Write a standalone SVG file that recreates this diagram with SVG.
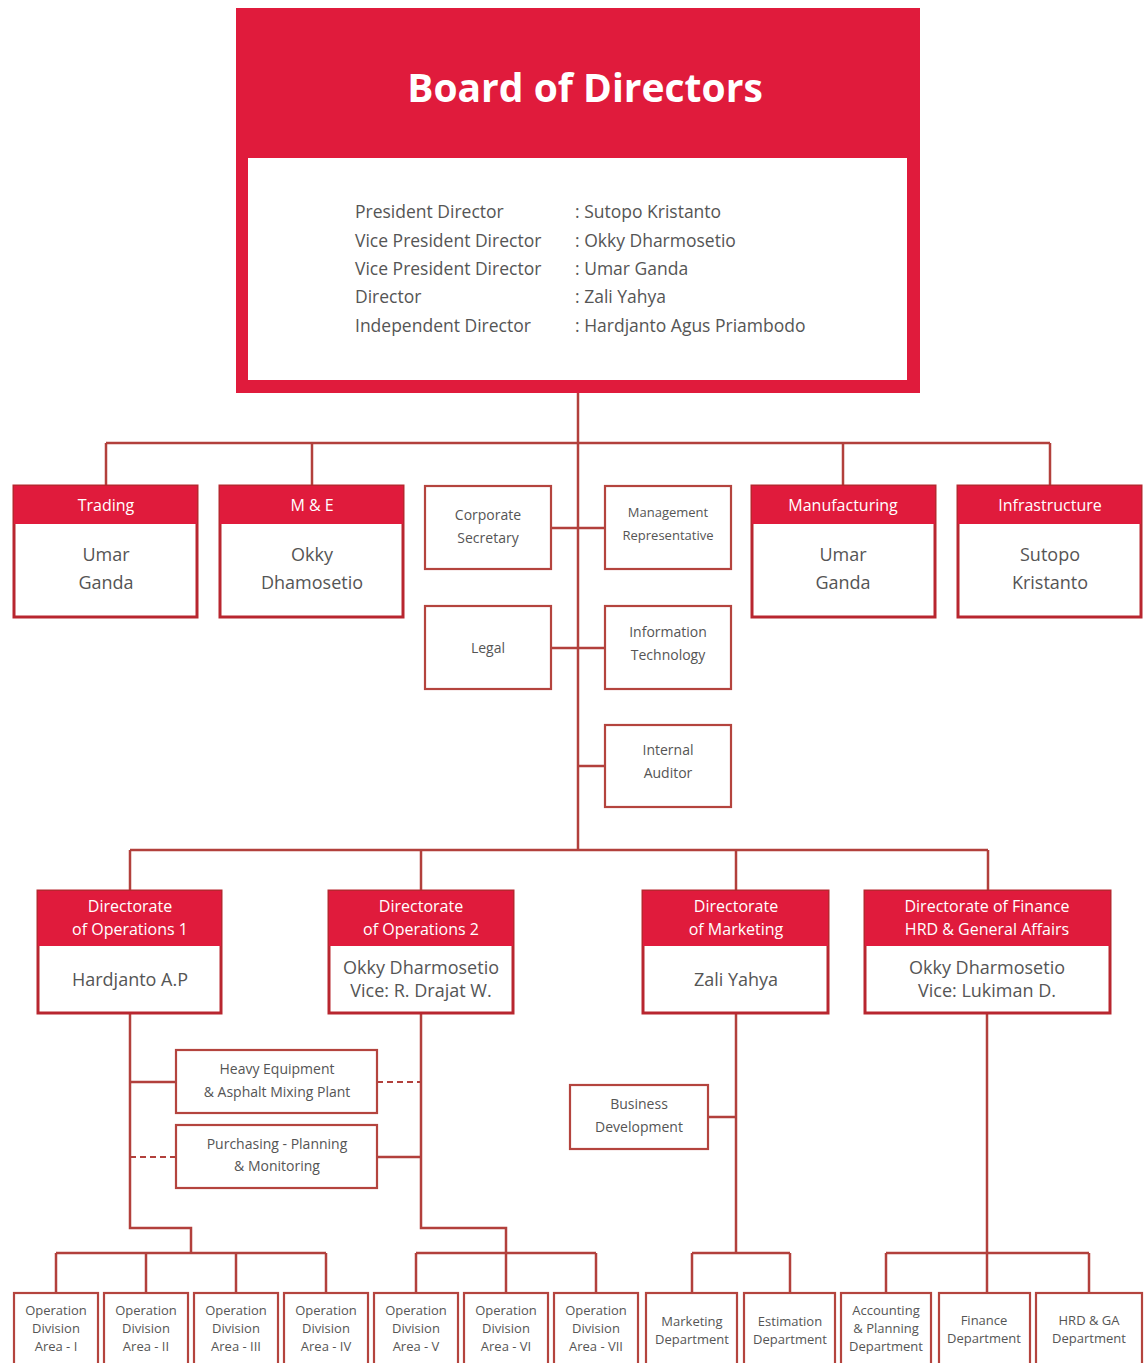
<svg xmlns="http://www.w3.org/2000/svg" width="1147" height="1363" viewBox="0 0 1147 1363">
<style>
.ln{stroke:#b2403c;stroke-width:2.5;fill:none}
.dash{stroke:#b2403c;stroke-width:2;fill:none;stroke-dasharray:6,4}
.rb{fill:#fff;stroke:#b8262f;stroke-width:3}
.hd{fill:#e01b3c}
.pb{fill:#fff;stroke:#b4443e;stroke-width:2.2}
.t{font-family:"Open Sans","Noto Sans",sans-serif;fill:#555;text-anchor:middle}
.w{font-family:"Open Sans","Noto Sans",sans-serif;fill:#fff;text-anchor:middle;font-size:16px}
.b{font-size:18px}
.s{font-size:14px}
.x{font-size:13px}
.l{font-family:"Open Sans","Noto Sans",sans-serif;fill:#555;font-size:17.5px}
</style>
<rect width="1147" height="1363" fill="#fff"/>
<g id="connectors">
<path class="ln" d="M578,393 V850"/>
<path class="ln" d="M106,443 H1050 M106,443 V486 M312,443 V486 M843,443 V486 M1050,443 V486"/>
<path class="ln" d="M551,528 H605 M551,648 H605 M578,766 H605"/>
<path class="ln" d="M130,850 H988 M130,850 V891 M421,850 V891 M736,850 V891 M988,850 V891"/>
<path class="ln" d="M130,1013 V1228 H191 V1253 M130,1082 H176"/>
<path class="dash" d="M377,1082 H421 M130,1157 H176"/>
<path class="ln" d="M421,1013 V1228 H506 V1253 M377,1157 H421"/>
<path class="ln" d="M56,1253 H326 M56,1253 V1293 M146,1253 V1293 M236,1253 V1293 M326,1253 V1293"/>
<path class="ln" d="M416,1253 H596 M416,1253 V1293 M506,1253 V1293 M596,1253 V1293"/>
<path class="ln" d="M736,1013 V1253 M692,1253 H790 M692,1253 V1293 M790,1253 V1293 M708,1117 H736"/>
<path class="ln" d="M987,1013 V1293 M886,1253 H1089 M886,1253 V1293 M1089,1253 V1293"/>
</g>
<g id="board">
<rect x="236" y="8" width="684" height="385" fill="#e01b3c"/>
<rect x="248" y="158" width="659" height="222" fill="#fff"/>
<text x="585" y="102" text-anchor="middle" font-family="'Open Sans','Noto Sans',sans-serif" font-weight="bold" font-size="39" fill="#fff">Board of Directors</text>
<text class="l" x="355" y="218">President Director</text>
<text class="l" x="355" y="247">Vice President Director</text>
<text class="l" x="355" y="275">Vice President Director</text>
<text class="l" x="355" y="303">Director</text>
<text class="l" x="355" y="332">Independent Director</text>
<text class="l" x="575" y="218">: Sutopo Kristanto</text>
<text class="l" x="575" y="247">: Okky Dharmosetio</text>
<text class="l" x="575" y="275">: Umar Ganda</text>
<text class="l" x="575" y="303">: Zali Yahya</text>
<text class="l" x="575" y="332">: Hardjanto Agus Priambodo</text>
</g>
<g id="trading">
<rect class="rb" x="14" y="486" width="183" height="131"/>
<rect class="hd" x="14" y="486" width="183" height="38"/>
<text class="w" x="106" y="511">Trading</text>
<text class="t b" x="106" y="561">Umar</text>
<text class="t b" x="106" y="589">Ganda</text>
</g>
<g id="me">
<rect class="rb" x="220" y="486" width="183" height="131"/>
<rect class="hd" x="220" y="486" width="183" height="38"/>
<text class="w" x="312" y="511">M &amp; E</text>
<text class="t b" x="312" y="561">Okky</text>
<text class="t b" x="312" y="589">Dhamosetio</text>
</g>
<g id="corpsec">
<rect class="pb" x="425" y="486" width="126" height="83"/>
<text class="t s" x="488" y="520">Corporate</text>
<text class="t s" x="488" y="543">Secretary</text>
</g>
<g id="mgmtrep">
<rect class="pb" x="605" y="486" width="126" height="83"/>
<text class="t x" x="668" y="517">Management</text>
<text class="t x" x="668" y="540">Representative</text>
</g>
<g id="manufacturing">
<rect class="rb" x="752" y="486" width="183" height="131"/>
<rect class="hd" x="752" y="486" width="183" height="38"/>
<text class="w" x="843" y="511">Manufacturing</text>
<text class="t b" x="843" y="561">Umar</text>
<text class="t b" x="843" y="589">Ganda</text>
</g>
<g id="infrastructure">
<rect class="rb" x="958" y="486" width="183" height="131"/>
<rect class="hd" x="958" y="486" width="183" height="38"/>
<text class="w" x="1050" y="511">Infrastructure</text>
<text class="t b" x="1050" y="561">Sutopo</text>
<text class="t b" x="1050" y="589">Kristanto</text>
</g>
<g id="legal">
<rect class="pb" x="425" y="606" width="126" height="83"/>
<text class="t s" x="488" y="653">Legal</text>
</g>
<g id="it">
<rect class="pb" x="605" y="606" width="126" height="83"/>
<text class="t s" x="668" y="637">Information</text>
<text class="t s" x="668" y="660">Technology</text>
</g>
<g id="audit">
<rect class="pb" x="605" y="725" width="126" height="82"/>
<text class="t s" x="668" y="755">Internal</text>
<text class="t s" x="668" y="778">Auditor</text>
</g>
<g id="ops1">
<rect class="rb" x="38" y="891" width="183" height="122"/>
<rect class="hd" x="38" y="891" width="183" height="55"/>
<text class="w" x="130" y="912">Directorate</text>
<text class="w" x="130" y="935">of Operations 1</text>
<text class="t b" x="130" y="986">Hardjanto A.P</text>
</g>
<g id="ops2">
<rect class="rb" x="329" y="891" width="184" height="122"/>
<rect class="hd" x="329" y="891" width="184" height="55"/>
<text class="w" x="421" y="912">Directorate</text>
<text class="w" x="421" y="935">of Operations 2</text>
<text class="t b" x="421" y="974">Okky Dharmosetio</text>
<text class="t b" x="421" y="997">Vice: R. Drajat W.</text>
</g>
<g id="marketing">
<rect class="rb" x="643" y="891" width="185" height="122"/>
<rect class="hd" x="643" y="891" width="185" height="55"/>
<text class="w" x="736" y="912">Directorate</text>
<text class="w" x="736" y="935">of Marketing</text>
<text class="t b" x="736" y="986">Zali Yahya</text>
</g>
<g id="finance">
<rect class="rb" x="865" y="891" width="245" height="122"/>
<rect class="hd" x="865" y="891" width="245" height="55"/>
<text class="w" x="987" y="912">Directorate of Finance</text>
<text class="w" x="987" y="935">HRD &amp; General Affairs</text>
<text class="t b" x="987" y="974">Okky Dharmosetio</text>
<text class="t b" x="987" y="997">Vice: Lukiman D.</text>
</g>
<g id="heavy">
<rect class="pb" x="176" y="1050" width="201" height="63"/>
<text class="t s" x="277" y="1074">Heavy Equipment</text>
<text class="t s" x="277" y="1097">&amp; Asphalt Mixing Plant</text>
</g>
<g id="purchasing">
<rect class="pb" x="176" y="1125" width="201" height="63"/>
<text class="t s" x="277" y="1149">Purchasing - Planning</text>
<text class="t s" x="277" y="1171">&amp; Monitoring</text>
</g>
<g id="bizdev">
<rect class="pb" x="570" y="1085" width="138" height="64"/>
<text class="t s" x="639" y="1109">Business</text>
<text class="t s" x="639" y="1132">Development</text>
</g>
<g id="area1"><rect class="pb" x="14" y="1293" width="84" height="85"/><text class="t x" x="56" y="1315">Operation</text><text class="t x" x="56" y="1333">Division</text><text class="t x" x="56" y="1351">Area - I</text></g>
<g id="area2"><rect class="pb" x="104" y="1293" width="84" height="85"/><text class="t x" x="146" y="1315">Operation</text><text class="t x" x="146" y="1333">Division</text><text class="t x" x="146" y="1351">Area - II</text></g>
<g id="area3"><rect class="pb" x="194" y="1293" width="84" height="85"/><text class="t x" x="236" y="1315">Operation</text><text class="t x" x="236" y="1333">Division</text><text class="t x" x="236" y="1351">Area - III</text></g>
<g id="area4"><rect class="pb" x="284" y="1293" width="84" height="85"/><text class="t x" x="326" y="1315">Operation</text><text class="t x" x="326" y="1333">Division</text><text class="t x" x="326" y="1351">Area - IV</text></g>
<g id="area5"><rect class="pb" x="374" y="1293" width="84" height="85"/><text class="t x" x="416" y="1315">Operation</text><text class="t x" x="416" y="1333">Division</text><text class="t x" x="416" y="1351">Area - V</text></g>
<g id="area6"><rect class="pb" x="464" y="1293" width="84" height="85"/><text class="t x" x="506" y="1315">Operation</text><text class="t x" x="506" y="1333">Division</text><text class="t x" x="506" y="1351">Area - VI</text></g>
<g id="area7"><rect class="pb" x="554" y="1293" width="84" height="85"/><text class="t x" x="596" y="1315">Operation</text><text class="t x" x="596" y="1333">Division</text><text class="t x" x="596" y="1351">Area - VII</text></g>
<g id="mktdept"><rect class="pb" x="646" y="1293" width="91" height="85"/><text class="t x" x="692" y="1326">Marketing</text><text class="t x" x="692" y="1344">Department</text></g>
<g id="estdept"><rect class="pb" x="744" y="1293" width="91" height="85"/><text class="t x" x="790" y="1326">Estimation</text><text class="t x" x="790" y="1344">Department</text></g>
<g id="accdept"><rect class="pb" x="841" y="1293" width="90" height="85"/><text class="t x" x="886" y="1315">Accounting</text><text class="t x" x="886" y="1333">&amp; Planning</text><text class="t x" x="886" y="1351">Department</text></g>
<g id="findept"><rect class="pb" x="939" y="1293" width="91" height="85"/><text class="t x" x="984" y="1325">Finance</text><text class="t x" x="984" y="1343">Department</text></g>
<g id="hrddept"><rect class="pb" x="1036" y="1293" width="106" height="85"/><text class="t x" x="1089" y="1325">HRD &amp; GA</text><text class="t x" x="1089" y="1343">Department</text></g>
</svg>
